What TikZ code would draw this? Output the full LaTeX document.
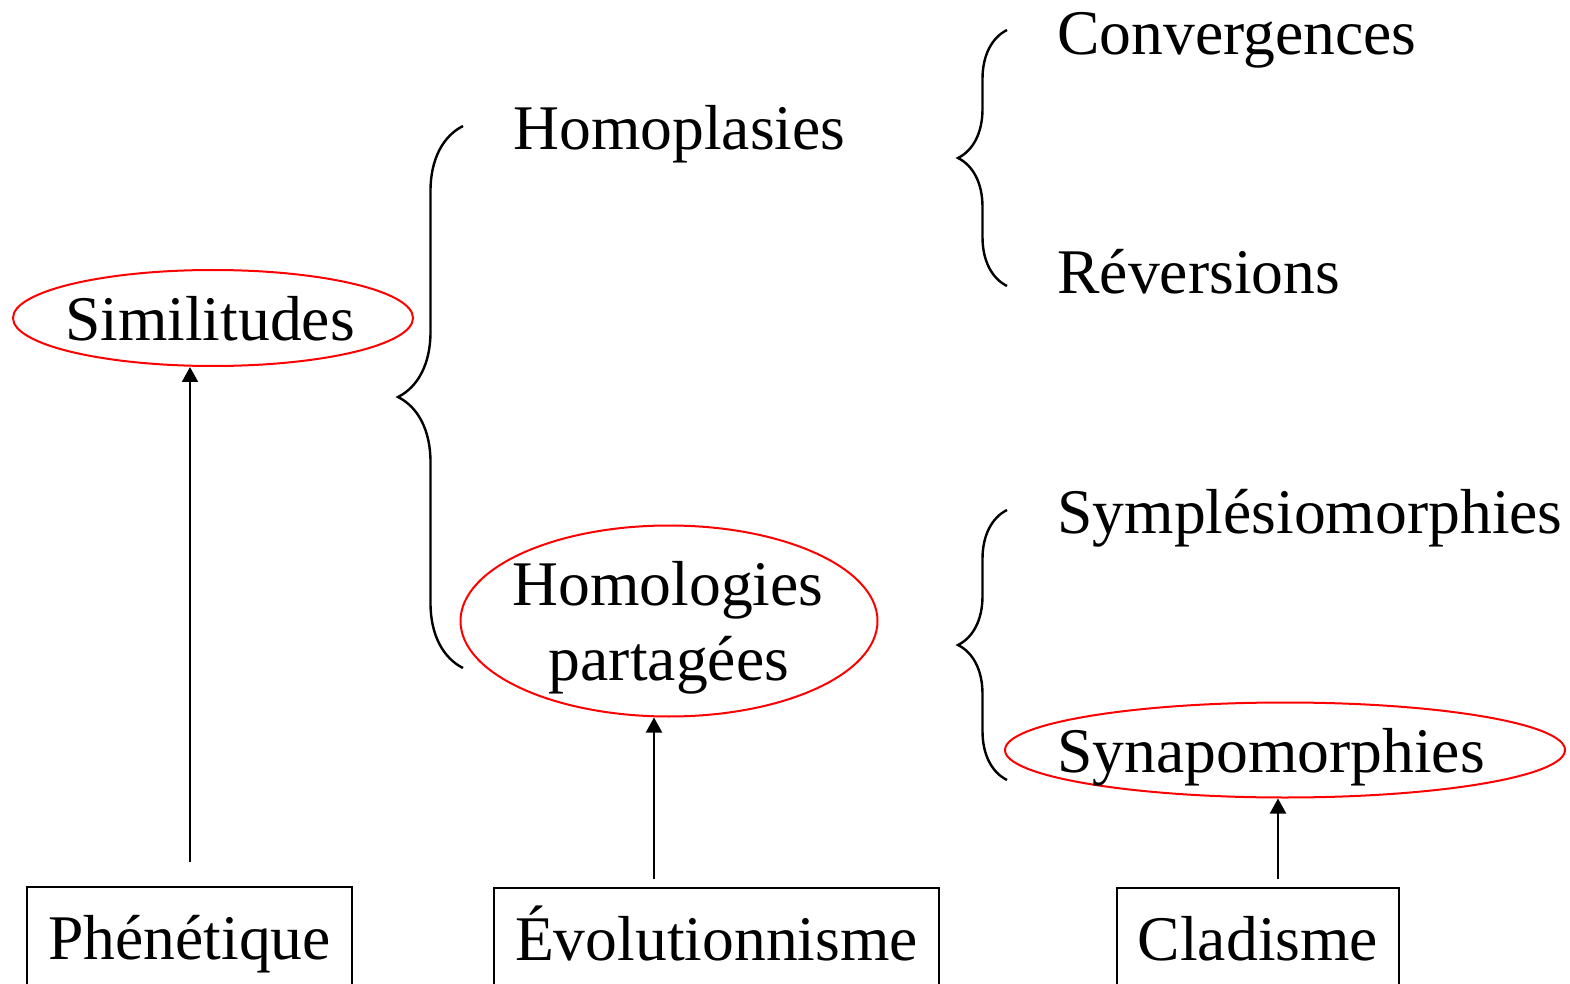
\documentclass[tikz,border=0pt]{standalone}
\usepackage{fontspec}
\setmainfont{Liberation Serif}
\usetikzlibrary{arrows.meta}
\usetikzlibrary{shapes.geometric}
\usetikzlibrary{decorations.pathreplacing}

\begin{document}
\begin{tikzpicture}[x=0.5pt,y=-0.5pt,font=\fontsize{31.8pt}{37.5pt}\selectfont,
    term node/.style={anchor=base west,inner sep=0pt},
    text node/.style={anchor=base,inner sep=0pt},
    red node/.style={ellipse,draw=red,line width=1pt,inner sep=0pt},
    box node/.style={draw,line width=1pt,anchor=north,inner sep=0pt,text height=36pt,text depth=30pt},
    up arrow/.style={-{Triangle[length=7.5pt,width=8pt]},line width=1pt},
    big brace/.style={decorate,decoration={brace,amplitude=#1},line width=1.2pt}]
  \useasboundingbox (0,0) rectangle (1570,984);
  \clip (0,0) rectangle (1570,984);

  % les ellipses rouges
  \node[red node,minimum width=200pt,minimum height=48pt] (simil) at (213,318) {};
  \node[text node] (simil text) at (210,341) {Similitudes};
  \node[red node,minimum width=208.5pt,minimum height=95.5pt] (homol) at (669,621) {};
  \node[text node] (homol text) at (668,605) {Homologies};
  \node[text node] (part text) at (669,680) {partagées};
  \node[red node,minimum width=280pt,minimum height=47.5pt] (synap) at (1285,750) {};

  % les termes
  \node[term node] (homopl) at (513,150) {Homoplasies};
  \node[term node] (conv) at (1057,55) {Convergences};
  \node[term node] (rever) at (1057,294) {Réversions};
  \node[term node] (sympl) at (1057,533) {Symplésiomorphies};
  \node[term node] (synap text) at (1057,772) {Synapomorphies};

  % les accolades
  \coordinate (simil top) at (463,126);
  \coordinate (simil bot) at (463,668);
  \coordinate (homopl top) at (1007,30);
  \coordinate (homopl bot) at (1007,286);
  \coordinate (homol top) at (1007,510);
  \coordinate (homol bot) at (1007,780);
  \draw[big brace=32.5pt] (simil bot) -- (simil top);
  \draw[big brace=24.5pt] (homopl bot) -- (homopl top);
  \draw[big brace=24.5pt] (homol bot) -- (homol top);

  % les écoles
  \node[box node,minimum width=162.5pt] (phen) at (189.5,886) {Phénétique};
  \node[box node,minimum width=222.5pt] (evol) at (716.5,887) {Évolutionnisme};
  \node[box node,minimum width=141pt] (clad) at (1258,887) {Cladisme};

  \coordinate (phen tail) at (190,862);
  \coordinate (evol tail) at (654,879);
  \coordinate (clad tail) at (1278,879);
  \draw[up arrow] (phen tail) -- (phen tail |- simil.south);
  \draw[up arrow] (evol tail) -- (evol tail |- homol.south);
  \draw[up arrow] (clad tail) -- (clad tail |- synap.south);
\end{tikzpicture}
\end{document}
